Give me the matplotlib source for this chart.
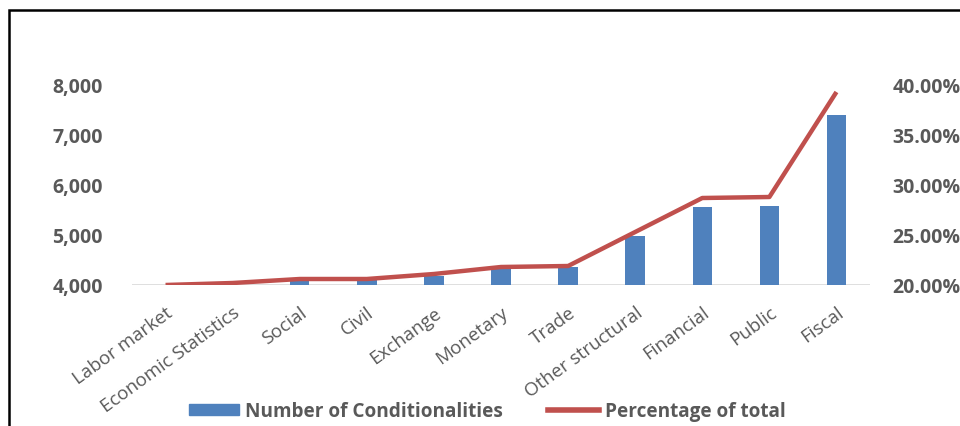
import matplotlib
matplotlib.use("Agg")
import matplotlib.pyplot as plt
from matplotlib.patches import Rectangle
from matplotlib.lines import Line2D
from matplotlib.ticker import FuncFormatter

categories = ["Labor market", "Economic Statistics", "Social", "Civil", "Exchange",
              "Monetary", "Trade", "Other structural", "Financial", "Public", "Fiscal"]
conditionalities = [3900, 3950, 4110, 4120, 4180, 4330, 4360, 4980, 5560, 5580, 7400]
pct_of_total = [20.0, 20.2, 20.6, 20.6, 21.1, 21.8, 21.9, 25.3, 28.7, 28.8, 39.3]
left_ticks = [4000, 5000, 6000, 7000, 8000]
right_ticks = [20, 25, 30, 35, 40]

BLUE = "#4F81BD"
RED = "#C0504D"
GRAY = "#595959"
FONT = "Open Sans"

plt.rcParams["font.family"] = [FONT, "DejaVu Sans"]

fig = plt.figure(figsize=(9.6, 4.27), dpi=100)
W, H = 960, 427

# outer chart frame
fig.add_artist(Rectangle((9 / W, -0.1), 1.2, (H - 11) / H + 0.1, transform=fig.transFigure,
                         fill=False, edgecolor="black", linewidth=1.8))

ax = fig.add_axes([132 / W, (H - 286) / H, 738 / W, 200 / H])
x = list(range(len(categories)))
ax.bar(x, conditionalities, width=0.29, color=BLUE, zorder=2)
ax.set_ylim(4000, 8000)
ax.set_xlim(-0.5, len(categories) - 0.5)
ax.set_yticks(left_ticks)
ax.yaxis.set_major_formatter(FuncFormatter(lambda v, p: f"{int(v):,}"))
ax.axhline(4000, color="#D9D9D9", linewidth=1.2, zorder=1)

for s in ax.spines.values():
    s.set_visible(False)
ax.tick_params(axis="y", length=0, pad=21, labelsize=14, labelcolor=GRAY)
for t in ax.get_yticklabels():
    t.set_fontweight("bold")
ax.set_xticks(x)
ax.set_xticklabels(categories, rotation=36, ha="right", rotation_mode="anchor",
                   fontsize=13.5, color=GRAY)
ax.tick_params(axis="x", length=0, pad=13)

ax2 = ax.twinx()
ax2.plot(x, pct_of_total, color=RED, linewidth=3.2, solid_capstyle="butt", zorder=3)
ax2.set_ylim(20, 40)
ax2.set_yticks(right_ticks)
ax2.yaxis.set_major_formatter(FuncFormatter(lambda v, p: f"{v:.2f}%"))
for s in ax2.spines.values():
    s.set_visible(False)
ax2.tick_params(axis="y", length=0, pad=16, labelsize=14, labelcolor=GRAY)
for t in ax2.get_yticklabels():
    t.set_fontweight("bold")

handles = [Rectangle((0, 0), 1, 1, color=BLUE),
           Line2D([0], [0], color=RED, linewidth=4)]
fig.legend(handles, ["Number of Conditionalities", "Percentage of total"],
           loc="center", bbox_to_anchor=(487 / W, (H - 412) / H), ncol=2, frameon=False,
           prop={"weight": "bold", "size": 13.7}, labelcolor=GRAY,
           handlelength=2.65, handleheight=0.5, columnspacing=2.4, handletextpad=0.3)

fig.savefig("out.png", dpi=100)
